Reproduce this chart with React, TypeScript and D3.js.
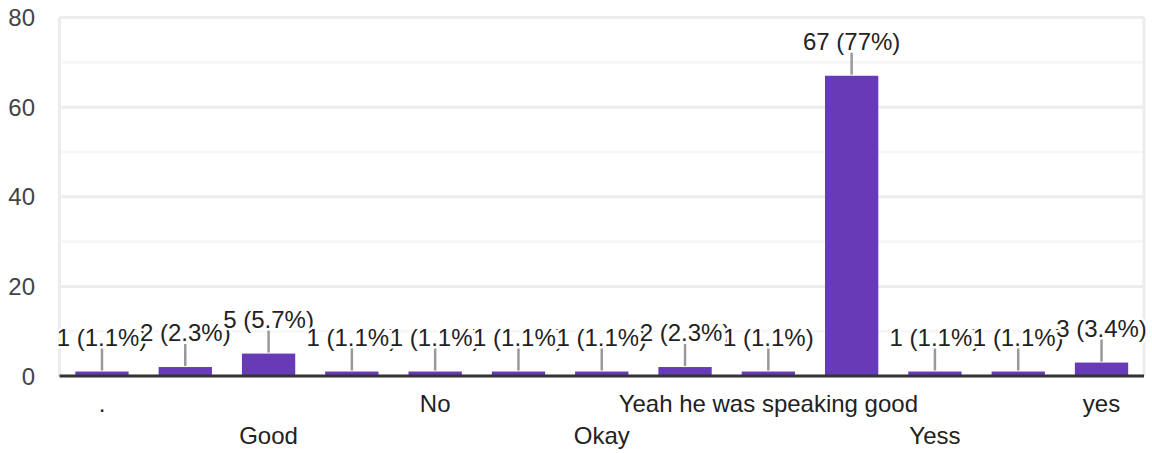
import React from "react";
import * as d3 from "d3";

const categories = [
  ".",
  "Excellent",
  "Good",
  "Nice",
  "No",
  "Ok",
  "Okay",
  "Very good",
  "Yeah he was speaking good",
  "Yes",
  "Yess",
  "Yes.",
  "yes",
];
const values = [1, 2, 5, 1, 1, 1, 1, 2, 1, 67, 1, 1, 3];
const yTicks = [0, 20, 40, 60, 80];
const yMinorTicks = [10, 30, 50, 70];

const W = 1152;
const H = 453;
const left = 59.5;
const right = 1144;
const top = 17.5;
const bottom = 376;
const FONT = "'Liberation Sans', Arial, sans-serif";

export default function App() {
  const total = d3.sum(values);
  const x = d3
    .scaleBand<string>()
    .domain(categories)
    .range([left, right])
    .paddingInner(0.36)
    .paddingOuter(0.19);
  const y = d3.scaleLinear().domain([0, 80]).range([bottom, top]);
  const pct = d3.format(".2r");
  const bw = x.bandwidth();

  return (
    <svg
      width={W}
      height={H}
      style={{ position: "absolute", left: 0, top: 0, background: "#fff" }}
      fontFamily={FONT}
    >
      {yMinorTicks.map((t) => (
        <line key={"m" + t} x1={left} x2={right} y1={y(t)} y2={y(t)} stroke="#f6f6f6" strokeWidth={2.5} />
      ))}
      {yTicks
        .filter((t) => t !== 0)
        .map((t) => (
          <line key={"g" + t} x1={left} x2={right} y1={y(t)} y2={y(t)} stroke="#ececec" strokeWidth={3} />
        ))}
      <line x1={left} x2={left} y1={top} y2={bottom} stroke="#ececec" strokeWidth={3} />
      <line x1={right} x2={right} y1={top} y2={bottom} stroke="#ececec" strokeWidth={3} />
      {yTicks.map((t) => (
        <text key={"t" + t} x={35} y={y(t)} dy="0.36em" textAnchor="end" fontSize={24} fill="#444">
          {t}
        </text>
      ))}
      {categories.map((c, i) => (
        <rect key={"b" + c} x={x(c)} y={y(values[i])} width={bw} height={bottom - y(values[i])} fill="#673ab7" />
      ))}
      <line x1={left} x2={right} y1={bottom} y2={bottom} stroke="#333" strokeWidth={3} />
      {categories.map((c, i) => {
        const cx = (x(c) as number) + bw / 2;
        const yt = y(values[i]);
        return (
          <g key={"l" + c}>
            <text
              x={cx}
              y={yt - 26}
              textAnchor="middle"
              fontSize={24}
              fill="#222"
              stroke="#fff"
              strokeWidth={5}
              paintOrder="stroke"
            >
              {`${values[i]} (${pct((values[i] / total) * 100)}%)`}
            </text>
            <line x1={cx} x2={cx} y1={yt - 1} y2={yt - 23} stroke="#999" strokeWidth={2.5} />
          </g>
        );
      })}
      {categories.map((c, i) => {
        if (i % 2 !== 0) return null;
        const row = (i / 2) % 2;
        return (
          <text
            key={"x" + c}
            x={(x(c) as number) + bw / 2}
            y={row === 0 ? 412 : 444}
            textAnchor="middle"
            fontSize={24}
            fill="#222"
          >
            {c}
          </text>
        );
      })}
    </svg>
  );
}
